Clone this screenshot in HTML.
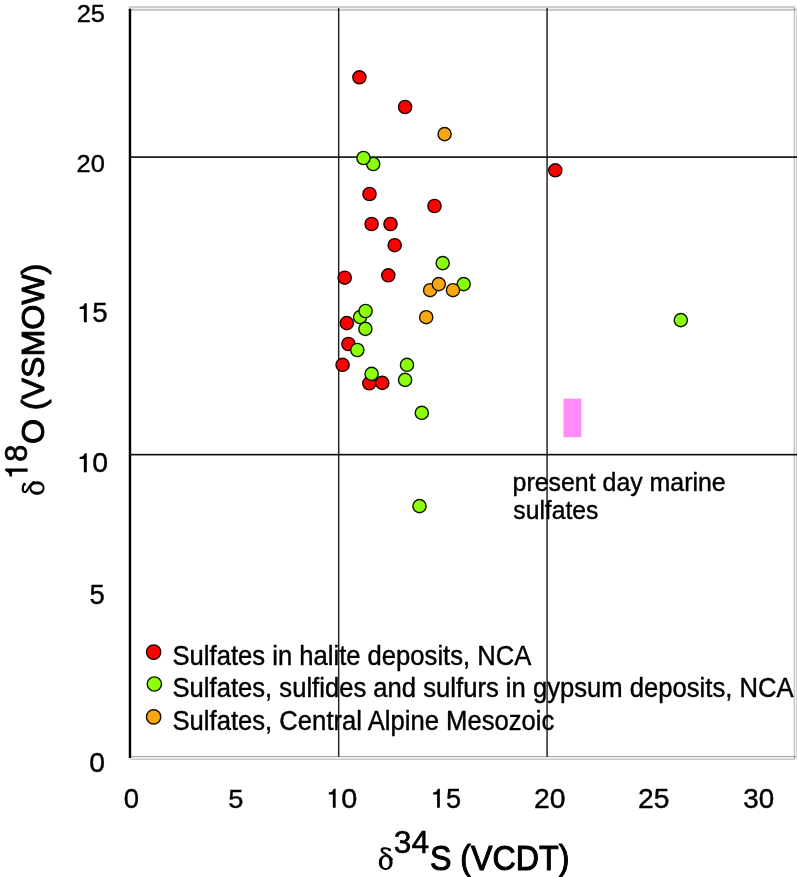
<!DOCTYPE html>
<html>
<head>
<meta charset="utf-8">
<title>d18O vs d34S</title>
<style>
html,body{margin:0;padding:0;background:#fff;}
body{width:797px;height:877px;overflow:hidden;position:relative;}
svg{position:absolute;left:0;top:0;display:block;will-change:transform;}
text{font-family:"Liberation Sans",sans-serif;fill:#000;stroke:#000;stroke-linejoin:round;}
text.ser{font-family:"Liberation Serif",serif;}
.r{fill:#ff0000;stroke:#200000;stroke-width:1.4;}
.g{fill:#8cff0a;stroke:#0c1800;stroke-width:1.4;}
.o{fill:#f8a814;stroke:#1c0e00;stroke-width:1.4;}
</style>
</head>
<body>
<svg width="797" height="877" viewBox="0 0 797 877">
<rect x="0" y="0" width="797" height="877" fill="#fff"/>
<g id="frame">
<rect x="128.6" y="6" width="666.6" height="2" fill="#cfcfcf"/>
<rect x="128.6" y="8" width="666" height="1" fill="#f0f0f0"/>
<rect x="128.6" y="9" width="666" height="2" fill="#cacaca"/>
<rect x="793.6" y="7" width="1.6" height="752.5" fill="#c8c8c8"/>
<rect x="795.2" y="7.5" width="1.1" height="752" fill="#eeeeee"/>
<rect x="796.3" y="8" width="0.7" height="751" fill="#c8c8c8"/>
<rect x="130" y="756" width="665" height="1.2" fill="#a8a8a8"/>
<rect x="130" y="757.2" width="665" height="1.3" fill="#f0f0f0"/>
<rect x="130" y="758.5" width="665.5" height="1.5" fill="#cccccc"/>
<rect x="794" y="8.9" width="1.2" height="1.2" fill="#555"/>
<rect x="794" y="756.2" width="1.2" height="1.4" fill="#555"/>
</g>
<g id="grid">
<rect x="337.95" y="8" width="1.45" height="749" fill="#222"/>
<rect x="546.3" y="8" width="1.6" height="749" fill="#333"/>
<rect x="130" y="156.3" width="667" height="1.6" fill="#0a0a0a"/>
<rect x="130" y="453.85" width="667" height="1.6" fill="#0a0a0a"/>
</g>
<rect x="128.75" y="8.7" width="2.45" height="749.3" fill="#000"/>
<rect x="563.5" y="398.6" width="17.9" height="38.6" fill="#ff8cfa"/>
<g id="pts">
<circle class="r" cx="359.4" cy="77.3" r="6.6"/>
<circle class="r" cx="405.1" cy="107.0" r="6.6"/>
<circle class="r" cx="555.3" cy="170.3" r="6.6"/>
<circle class="r" cx="369.5" cy="194" r="6.6"/>
<circle class="r" cx="434.5" cy="206" r="6.6"/>
<circle class="r" cx="371.6" cy="224" r="6.6"/>
<circle class="r" cx="390.5" cy="224" r="6.6"/>
<circle class="r" cx="394.7" cy="245.2" r="6.6"/>
<circle class="r" cx="388.3" cy="275.3" r="6.6"/>
<circle class="r" cx="344.7" cy="277.7" r="6.6"/>
<circle class="r" cx="346.8" cy="323.1" r="6.6"/>
<circle class="r" cx="348.4" cy="344" r="6.6"/>
<circle class="r" cx="342.6" cy="364.8" r="6.6"/>
<circle class="r" cx="369.3" cy="383.3" r="6.6"/>
<circle class="r" cx="382.3" cy="382.9" r="6.6"/>
<circle class="g" cx="373.2" cy="164" r="6.6"/>
<circle class="g" cx="363.5" cy="158" r="6.6"/>
<circle class="g" cx="442.7" cy="263.1" r="6.6"/>
<circle class="g" cx="463.7" cy="284.1" r="6.6"/>
<circle class="g" cx="360.1" cy="317.1" r="6.6"/>
<circle class="g" cx="365.6" cy="311" r="6.6"/>
<circle class="g" cx="365.4" cy="328.9" r="6.6"/>
<circle class="g" cx="357.3" cy="350" r="6.6"/>
<circle class="g" cx="407" cy="364.8" r="6.6"/>
<circle class="g" cx="371.6" cy="373.9" r="6.6"/>
<circle class="g" cx="405.1" cy="379.9" r="6.6"/>
<circle class="g" cx="421.8" cy="412.8" r="6.6"/>
<circle class="g" cx="419.5" cy="506.1" r="6.6"/>
<circle class="g" cx="680.8" cy="320.1" r="6.6"/>
<circle class="o" cx="444.6" cy="134.1" r="6.6"/>
<circle class="o" cx="430.1" cy="290.2" r="6.6"/>
<circle class="o" cx="438.8" cy="284.1" r="6.6"/>
<circle class="o" cx="453.0" cy="290.2" r="6.6"/>
<circle class="o" cx="426.2" cy="317.2" r="6.6"/>
</g>
<g id="legend">
<circle class="r" cx="153.65" cy="652.1" r="7.15"/>
<circle class="g" cx="154.35" cy="684.0" r="7.15"/>
<circle class="o" cx="153.65" cy="716.9" r="7.15"/>
</g>
<g id="labels">
<text id="yl25" font-size="25.5" stroke-width="0.4" transform="translate(76.64 21.58) scale(0.9986 0.9532)">25</text>
<text id="yl20" font-size="25.5" stroke-width="0.4" transform="translate(76.59 171.97) scale(0.9986 0.9723)">20</text>
<text id="yl5" font-size="27.5" stroke-width="0.4" transform="translate(89.49 603.81) scale(0.9982 0.9810)">5</text>
<text id="yl0" font-size="27.5" stroke-width="0.4" transform="translate(89.16 772.02) scale(1.0278 0.9791)">0</text>
<text id="xl0" font-size="27.5" stroke-width="0.4" transform="translate(123.65 808.17) scale(1.0003 0.9791)">0</text>
<text id="xl5" font-size="27.5" stroke-width="0.4" transform="translate(228.15 807.82) scale(0.9940 0.9655)">5</text>
<text id="xl20" font-size="27.5" stroke-width="0.4" transform="translate(534.10 807.82) scale(1.0308 0.9822)">20</text>
<text id="xl25" font-size="27.5" stroke-width="0.4" transform="translate(638.11 807.82) scale(1.0270 0.9822)">25</text>
<text id="xl30" font-size="27.5" stroke-width="0.4" transform="translate(743.24 807.82) scale(1.0088 0.9822)">30</text>
<text id="leg1" font-size="25.68" stroke-width="0.4" transform="translate(172.50 665.10) scale(0.9979 1.0500)">Sulfates in halite deposits, NCA</text>
<text id="leg2" font-size="25.68" stroke-width="0.4" transform="translate(172.50 697.30) scale(0.9986 1.0500)">Sulfates, sulfides and sulfurs in gypsum deposits, NCA</text>
<text id="leg3" font-size="25.68" stroke-width="0.4" transform="translate(172.50 729.80) scale(0.9988 1.0500)">Sulfates, Central Alpine Mesozoic</text>
<text id="ann1" font-size="25.0" stroke-width="0.4" transform="translate(512.61 490.70) scale(0.9962 1.0000)">present day marine</text>
<text id="ann2" font-size="25.0" stroke-width="0.4" transform="translate(513.36 519.00) scale(0.9858 1.0000)">sulfates</text>
<text id="xts" font-size="30.5" stroke-width="0.55" transform="translate(393.76 852.98) scale(1.0406 1.0430)">34</text>
<text id="xtm" font-size="32.2" stroke-width="1.0" transform="translate(429.90 869.70) scale(1.0000 1.0800)">S (VCDT)</text>
<text id="ytm" font-size="33" stroke-width="1.0" transform="translate(43.50 444.11) rotate(-90) scale(0.9741 0.9569)">O (VSMOW)</text>
<text id="yl15b" font-size="27.5" stroke-width="0.4" transform="translate(92.26 321.97) scale(1.0063 0.9892)">5</text>
<text id="yl10b" font-size="27.5" stroke-width="0.4" transform="translate(92.23 472.17) scale(1.0327 0.9822)">0</text>
<text id="xl10b" font-size="27.5" stroke-width="0.4" transform="translate(341.27 808.02) scale(1.0483 0.9972)">0</text>
<text id="xl15b" font-size="27.5" stroke-width="0.4" transform="translate(446.07 808.02) scale(0.9848 0.9968)">5</text>
<text id="ytsb" font-size="32.5" stroke-width="0.7" transform="translate(27.03 461.67) rotate(-90) scale(0.9421 0.9432)">8</text>
</g>
<g id="deltas">
<g id="xtd" fill="#000"><path fill-rule="evenodd" d="M385.7 855.1 C389.75 855.1 392.6 858.3 392.6 862.5 C392.6 866.8 389.75 869.9 385.7 869.9 C381.65 869.9 378.8 866.8 378.8 862.5 C378.8 858.3 381.65 855.1 385.7 855.1 Z M385.75 856.8 C383.35 856.8 382.0 859.25 382.0 862.5 C382.0 865.75 383.35 868.1 385.75 868.1 C388.15 868.1 389.5 865.75 389.5 862.5 C389.5 859.25 388.15 856.8 385.75 856.8 Z"/><path fill="none" stroke="#000" stroke-width="2.2" stroke-linecap="round" stroke-linejoin="round" d="M391.8 859.3 C390.2 856.6 386.6 854.5 383.5 852.7 C380.8 851.1 381.1 848.55 384.0 848.3 C386.2 848.1 388.3 848.4 389.5 849.55"/><circle cx="389.6" cy="849.95" r="1.4"/></g>
<g id="ytd" fill="#000" transform="translate(44.5 494.85) rotate(-90) scale(0.985 1.005) translate(-378.8 -869.9)"><path fill-rule="evenodd" d="M385.7 855.1 C389.75 855.1 392.6 858.3 392.6 862.5 C392.6 866.8 389.75 869.9 385.7 869.9 C381.65 869.9 378.8 866.8 378.8 862.5 C378.8 858.3 381.65 855.1 385.7 855.1 Z M385.75 856.8 C383.35 856.8 382.0 859.25 382.0 862.5 C382.0 865.75 383.35 868.1 385.75 868.1 C388.15 868.1 389.5 865.75 389.5 862.5 C389.5 859.25 388.15 856.8 385.75 856.8 Z"/><path fill="none" stroke="#000" stroke-width="2.2" stroke-linecap="round" stroke-linejoin="round" d="M391.8 859.3 C390.2 856.6 386.6 854.5 383.5 852.7 C380.8 851.1 381.1 848.55 384.0 848.3 C386.2 848.1 388.3 848.4 389.5 849.55"/><circle cx="389.6" cy="849.95" r="1.4"/></g>
</g>
<g id="ones">
<path id="yl15a" fill="#000" transform="translate(79.60 322.30) scale(0.02939 0.02680)" d="M145 0L145 -492L0 -492L0 -570C89 -582 140 -595 172 -709L245 -709L245 0Z"/>
<path id="yl10a" fill="#000" transform="translate(79.60 472.30) scale(0.02939 0.02680)" d="M145 0L145 -492L0 -492L0 -570C89 -582 140 -595 172 -709L245 -709L245 0Z"/>
<path id="xl10a" fill="#000" transform="translate(328.80 807.80) scale(0.02796 0.02680)" d="M145 0L145 -492L0 -492L0 -570C89 -582 140 -595 172 -709L245 -709L245 0Z"/>
<path id="xl15a" fill="#000" transform="translate(433.10 807.80) scale(0.02755 0.02680)" d="M145 0L145 -492L0 -492L0 -570C89 -582 140 -595 172 -709L245 -709L245 0Z"/>
<path id="ytsa" fill="#000" transform="translate(27.60 476.60) rotate(-90) scale(0.03265 0.03159)" d="M145 0L145 -492L0 -492L0 -570C89 -582 140 -595 172 -709L245 -709L245 0Z"/>
</g>
</svg>
</body>
</html>
